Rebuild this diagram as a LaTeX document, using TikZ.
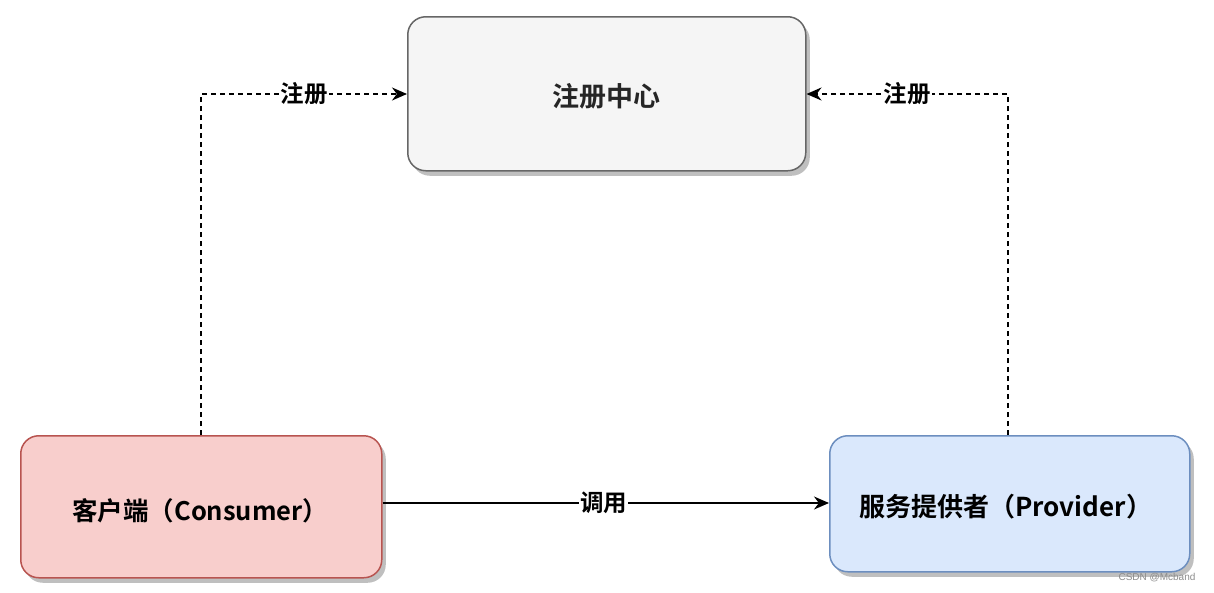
\documentclass[tikz,border=0pt]{standalone}
\usepackage{fontspec}
\newfontfamily\cjkb{Noto Sans CJK SC Bold}
\newfontfamily\wm{Liberation Sans}
\usetikzlibrary{shadows,arrows.meta}
\definecolor{regfill}{HTML}{F5F5F5}
\definecolor{regline}{HTML}{666666}
\definecolor{redfill}{HTML}{F8CECC}
\definecolor{redline}{HTML}{B85450}
\definecolor{bluefill}{HTML}{DAE8FC}
\definecolor{blueline}{HTML}{6C8EBF}
\tikzset{
  box/.style={draw, line width=1.5pt, rounded corners=18pt, anchor=north west, inner sep=0pt,
    drop shadow={shadow xshift=4pt, shadow yshift=-5pt, fill=black, opacity=0.25}},
  conn/.style={line width=1.8pt, -{Stealth[length=15pt,width=13pt]}},
  lbl/.style={fill=white, inner sep=1pt, font=\cjkb\fontsize{23.5}{26}\selectfont},
}
\begin{document}
\begin{tikzpicture}[x=1pt,y=-1pt]
\useasboundingbox (0,0) rectangle (1214,592);
\node[box, fill=regfill, draw=regline, minimum width=398pt, minimum height=154pt] (reg) at (407,16) {};
\node[font=\cjkb\fontsize{27}{30}\selectfont, text=black!85] at ([yshift=-3pt]reg.center) {注册中心};
\node[box, fill=redfill, draw=redline, minimum width=361pt, minimum height=142pt] (cons) at (20,435) {};
\node[font=\cjkb\fontsize{25.5}{28}\selectfont] at ([xshift=-1pt,yshift=-4pt]cons.center) {客户端（Consumer）};
\node[box, fill=bluefill, draw=blueline, minimum width=360pt, minimum height=136pt] (prov) at (829,435) {};
\node[font=\cjkb\fontsize{26}{28}\selectfont] at ([xshift=-4pt,yshift=-3pt]prov.center) {服务提供者（Provider）};
\coordinate (lc) at (201,94);
\coordinate (rc) at (1008,94);
\draw[conn, dash pattern=on 5pt off 4pt] (cons.north -| lc) -- (lc) -- (reg.west |- lc)
  node[lbl, pos=0.5] {注册};
\draw[conn, dash pattern=on 5pt off 4pt] (prov.north -| rc) -- (rc) -- (reg.east |- rc)
  node[lbl, pos=0.5] {注册};
\draw[conn] (cons.east |- 0,503) -- (prov.west |- 0,503) node[lbl, pos=0.495] {调用};
\node[font=\wm\fontsize{10}{12}\selectfont, text=black!45] (wmk) at (1157,578) {CSDN @Mcband};
\end{tikzpicture}
\end{document}
